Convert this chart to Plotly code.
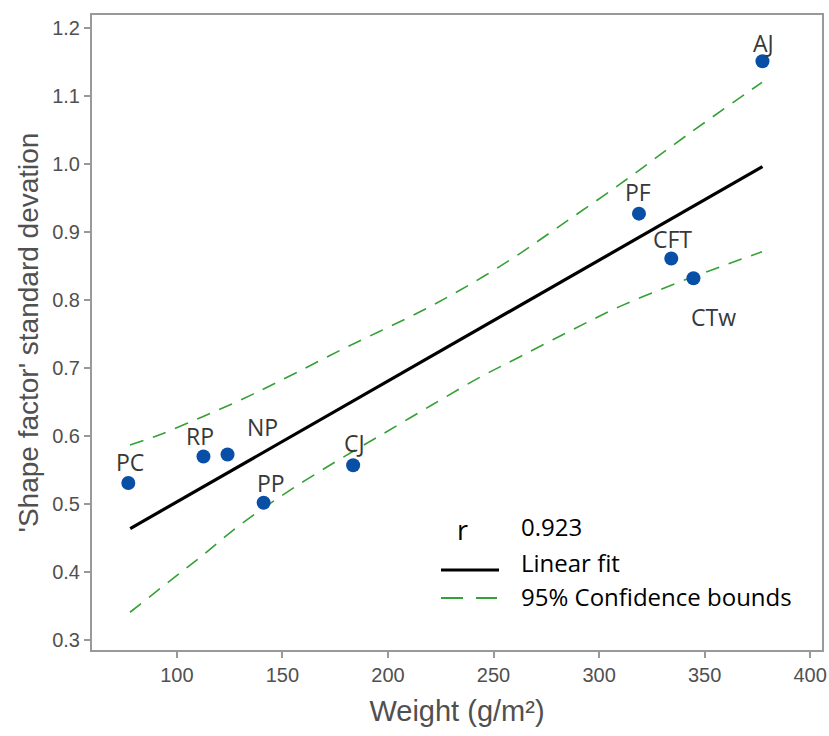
import plotly.graph_objects as go

# ---- data ----
names = ["PC", "RP", "NP", "PP", "CJ", "PF", "CFT", "CTw", "AJ"]
weight = [77.0, 112.6, 124.0, 141.1, 183.5, 318.9, 334.2, 344.7, 377.4]
shape_sd = [0.531, 0.570, 0.573, 0.502, 0.557, 0.927, 0.861, 0.832, 1.151]

fit_x = [77.9, 377.4]
fit_y = [0.464, 0.996]

upper_x = [77.8, 91.9, 111.1, 130.2, 149.4, 180.6, 215.4, 241.1, 262.8, 275.4, 310.2, 341.9, 377.2]
upper_y = [0.587, 0.602, 0.627, 0.653, 0.682, 0.731, 0.783, 0.827, 0.869, 0.896, 0.971, 1.043, 1.120]

lower_x = [77.8, 95.0, 111.1, 130.2, 152.4, 175.6, 196.4, 221.0, 243.9, 262.8, 286.5, 310.2, 336.9, 357.6, 377.2]
lower_y = [0.341, 0.383, 0.422, 0.470, 0.518, 0.563, 0.601, 0.646, 0.687, 0.717, 0.755, 0.791, 0.825, 0.849, 0.871]

r_value = "0.923"

# label offsets (px) relative to each point
label_dx = [2, -3, 35, 7, 1, -1, 1, 20, 1]
label_dy = [21, 20, 27, 20, 22, 22, 20, -39, 18]

x_ticks = [100, 150, 200, 250, 300, 350, 400]
y_ticks = [0.3, 0.4, 0.5, 0.6, 0.7, 0.8, 0.9, 1.0, 1.1, 1.2]

label_font = "Open Sans, Noto Sans, sans-serif"
axis_font = "Liberation Sans, Arial, sans-serif"
green = "#35a035"

fig = go.Figure()

fig.add_trace(go.Scatter(x=upper_x, y=upper_y, mode="lines",
                         line=dict(color=green, width=1.6, dash="14px,10px", shape="spline"),
                         showlegend=False, hoverinfo="skip"))
fig.add_trace(go.Scatter(x=lower_x, y=lower_y, mode="lines",
                         line=dict(color=green, width=1.6, dash="14px,10px", shape="spline"),
                         showlegend=False, hoverinfo="skip"))
fig.add_trace(go.Scatter(x=fit_x, y=fit_y, mode="lines",
                         line=dict(color="black", width=3.2),
                         showlegend=False))
fig.add_trace(go.Scatter(x=weight, y=shape_sd, mode="markers",
                         marker=dict(color="#0a4fa6", size=14, line=dict(width=0)),
                         showlegend=False, text=names))

for n, xv, yv, dx, dy in zip(names, weight, shape_sd, label_dx, label_dy):
    fig.add_annotation(x=xv, y=yv, text=n, showarrow=False,
                       xshift=dx, yshift=dy, xanchor="center", yanchor="middle",
                       font=dict(family=label_font, size=23, color="#383838"))

# manual legend (positions in pixels converted to paper coordinates)
L = 92
W = 730
T = 15
H = 635
def px(xp):
    return (xp - L) / W
def py(yp):
    return (T + H - yp) / H

legend_font = dict(family=label_font, size=24, color="black")
fig.add_annotation(xref="paper", yref="paper", x=px(462), y=py(529), text="r",
                   xanchor="center", yanchor="middle",
                   showarrow=False, font=dict(family=label_font, size=27, color="black"))
fig.add_annotation(xref="paper", yref="paper", x=px(519), y=py(526), text=r_value,
                   xanchor="left", yanchor="middle", showarrow=False, font=legend_font)
fig.add_annotation(xref="paper", yref="paper", x=px(519), y=py(562), text="Linear fit",
                   xanchor="left", yanchor="middle", showarrow=False, font=legend_font)
fig.add_annotation(xref="paper", yref="paper", x=px(519), y=py(596), text="95% Confidence bounds",
                   xanchor="left", yanchor="middle", showarrow=False, font=legend_font)
fig.add_shape(type="line", xref="paper", yref="paper",
              x0=px(441), x1=px(499), y0=py(570), y1=py(570),
              line=dict(color="black", width=3.2))
fig.add_shape(type="line", xref="paper", yref="paper",
              x0=px(441), x1=px(497), y0=py(598), y1=py(598),
              line=dict(color=green, width=1.8, dash="22px,13px"))

axis_common = dict(showgrid=False, zeroline=False, showline=True, mirror=True,
                   linecolor="#999999", linewidth=2, ticks="outside", ticklen=6,
                   tickwidth=1.5, tickcolor="#999999", automargin=False,
                   tickfont=dict(family=axis_font, size=20, color="#505050"))

fig.update_xaxes(range=[59.8, 405.6], tickvals=x_ticks,
                 title=dict(text="Weight (g/m²)", font=dict(family=axis_font, size=29, color="#505050"),
                            standoff=16),
                 **axis_common)
fig.update_yaxes(range=[0.2855, 1.219], tickvals=y_ticks, tickformat=".1f",
                 title=dict(text="'Shape factor' standard devation",
                            font=dict(family=axis_font, size=28, color="#505050"), standoff=5),
                 **axis_common)

fig.update_layout(width=829, height=736,
                  margin=dict(l=92, r=7, t=15, b=86),
                  plot_bgcolor="white", paper_bgcolor="white",
                  showlegend=False)

fig.write_html("out.html", config={"displayModeBar": False},
               post_script="document.body.style.margin='0';document.body.style.overflow='hidden';")
